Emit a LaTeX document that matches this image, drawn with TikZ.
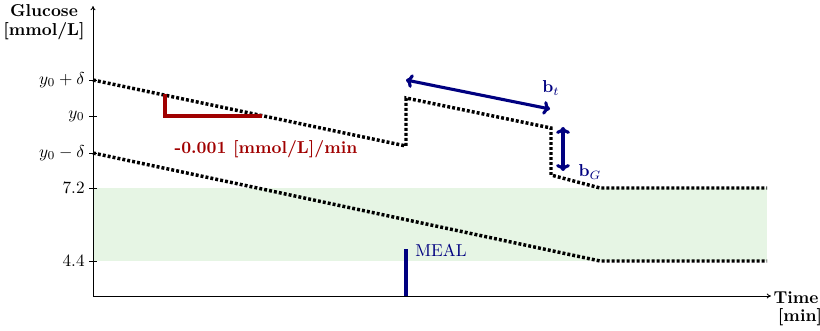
\documentclass[tikz,border=0pt]{standalone}
\usetikzlibrary{arrows.meta}
\definecolor{navyb}{RGB}{0,0,128}
\definecolor{darkred}{RGB}{160,0,0}
\definecolor{bandgreen}{RGB}{230,245,228}
\begin{document}
\begin{tikzpicture}[x=0.58pt,y=-0.58pt,
  axisline/.style={line width=0.5pt,-{To[length=2.5pt,width=3pt]}},
  tickline/.style={line width=0.5pt},
  dotline/.style={line width=2pt,dash pattern=on 1.7pt off 1.2pt},
  slopeline/.style={darkred,line width=1.8pt},
  blueline/.style={navyb,line width=1.8pt},
  ticklabel/.style={anchor=east,inner sep=0pt},
  axislabel/.style={font=\bfseries,inner sep=0pt,align=center}]
\useasboundingbox (0,0) rectangle (820,331);
% band
\fill[bandgreen] (93,188) rectangle (767,261);
% axes
\coordinate (O) at (93,296);
\coordinate (ytop) at (93,6);
\coordinate (xend) at (771,296);
\draw[axisline] (O) -- (ytop);
\draw[axisline] (O) -- (xend);
\node[axislabel] (glu) at (44,11) {Glucose};
\node[axislabel] (unit) at (44,31) {[mmol/L]};
\node[axislabel] (time) at (796,298) {Time};
\node[axislabel] (tunit) at (800,317) {[min]};
% ticks
\foreach \yy/\lab/\nm in {80/{$y_0+\delta$}/ta,116/{$y_0$}/tb,153/{$y_0-\delta$}/tc,188/{7.2}/td,261/{4.4}/te}{
  \draw[tickline] (89,\yy) -- (97,\yy);
  \node[ticklabel] (\nm) at (85,\yy) {\lab};
}
% upper curve
\coordinate (u1) at (93,80);
\coordinate (u2) at (406,146);
\coordinate (u3) at (406,98);
\coordinate (u4) at (551,128);
\coordinate (u5) at (551,175);
\coordinate (u6) at (600,188);
\coordinate (u7) at (767,188);
\draw[dotline] (u1) -- (u2) -- (u3) -- (u4) -- (u5) -- (u6) -- (u7);
% lower curve
\coordinate (l1) at (93,153);
\coordinate (l2) at (600,261);
\coordinate (l3) at (767,261);
\draw[dotline] (l1) -- (l2) -- (l3);
% slope
\coordinate (s1) at (165,94);
\coordinate (s2) at (165,116);
\coordinate (s3) at (262,116);
\draw[slopeline] (s1) -- (s2) -- (s3);
\node[darkred,font=\bfseries,inner sep=0pt] (slopelab) at (266,149) {-0.001 [mmol/L]/min};
% b_t arrow
\coordinate (bt1) at (406,80);
\coordinate (bt2) at (550,109);
\draw[blueline,{To[length=4pt,width=8pt]}-{To[length=4pt,width=8pt]}] (bt1) -- (bt2);
\node[navyb,inner sep=0pt] (btlab) at (551,88) {$\mathbf{b}_t$};
% b_G arrow
\coordinate (bg1) at (563,127);
\coordinate (bg2) at (563,171);
\draw[blueline,{To[length=4pt,width=8pt]}-{To[length=4pt,width=8pt]}] (bg1) -- (bg2);
\node[navyb,inner sep=0pt] (bglab) at (590,172) {$\mathbf{b}_G$};
% meal
\coordinate (m1) at (406,249);
\coordinate (m2) at (406,296);
\draw[navyb,line width=1.8pt] (m1) -- (m2);
\node[navyb,inner sep=0pt,anchor=west] (meal) at (415,250) {MEAL};
\end{tikzpicture}
\end{document}
